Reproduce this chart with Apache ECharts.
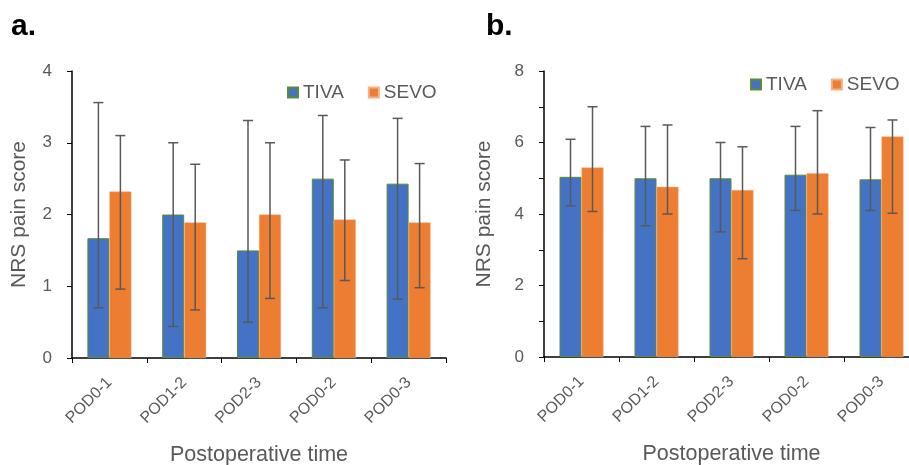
<!DOCTYPE html>
<html>
<head>
<meta charset="utf-8">
<script src="https://cdn.jsdelivr.net/npm/echarts@6/dist/echarts.min.js"></script>
<style>
  html, body { margin: 0; padding: 0; background: #fff; overflow: hidden; }
  #chart { width: 909px; height: 465px; }
</style>
</head>
<body>
<div id="chart"></div>
<script>
  // 数据
  const categories = ['POD0-1', 'POD1-2', 'POD2-3', 'POD0-2', 'POD0-3']
  const tivaA = [1.67, 2.0, 1.5, 2.5, 2.43]
  const sevoA = [2.32, 1.89, 2.0, 1.93, 1.89]
  const tivaErrA = [[0.7, 3.56], [0.44, 3.0], [0.5, 3.31], [0.7, 3.38], [0.82, 3.34]]
  const sevoErrA = [[0.96, 3.1], [0.67, 2.7], [0.83, 3.0], [1.08, 2.76], [0.98, 2.71]]
  const tivaB = [5.04, 5.0, 5.0, 5.1, 4.97]
  const sevoB = [5.3, 4.76, 4.67, 5.14, 6.17]
  const tivaErrB = [[4.23, 6.09], [3.67, 6.45], [3.5, 6.0], [4.1, 6.45], [4.1, 6.42]]
  const sevoErrB = [[4.07, 7.0], [4.0, 6.49], [2.75, 5.88], [4.0, 6.89], [4.02, 6.63]]

  const font = 'Liberation Sans'
  const grey = '#595959'
  const barW = 22

  // 误差线
  function errRender(offset) {
    return function (params, api) {
      const i = api.value(0)
      const lo = api.coord([i, api.value(1)])
      const hi = api.coord([i, api.value(2)])
      const x = lo[0] + offset
      const style = { stroke: grey, lineWidth: 1.5 }
      return {
        type: 'group',
        children: [
          { type: 'line', shape: { x1: x, y1: hi[1], x2: x, y2: lo[1] }, style: style },
          { type: 'line', shape: { x1: x - 5, y1: hi[1], x2: x + 5, y2: hi[1] }, style: style },
          { type: 'line', shape: { x1: x - 5, y1: lo[1], x2: x + 5, y2: lo[1] }, style: style }
        ]
      }
    }
  }

  function xAxis(gridIndex) {
    return {
      type: 'category',
      gridIndex: gridIndex,
      data: categories,
      name: 'Postoperative time',
      nameLocation: 'middle',
      nameGap: 86,
      nameTextStyle: { color: grey, fontSize: 21.5, fontFamily: font },
      axisLine: { lineStyle: { color: '#000', width: 1.5 } },
      axisTick: { show: true, length: 5, lineStyle: { color: '#000' } },
      axisLabel: { rotate: 45, margin: 22, color: grey, fontSize: 16, fontFamily: font }
    }
  }

  function yAxis(gridIndex, max, interval, minor, nameGap) {
    return {
      type: 'value',
      gridIndex: gridIndex,
      min: 0,
      max: max,
      interval: interval,
      name: 'NRS pain score',
      nameLocation: 'middle',
      nameGap: nameGap,
      nameTextStyle: { color: grey, fontSize: 21, fontFamily: font },
      axisLine: { show: true, lineStyle: { color: '#000', width: 1.5 } },
      axisTick: { show: true, length: 5, lineStyle: { color: '#000' } },
      minorTick: { show: minor, splitNumber: 2, length: 5, lineStyle: { color: '#000' } },
      splitLine: { show: false },
      axisLabel: { margin: 20, color: grey, fontSize: 17, fontFamily: font }
    }
  }

  function bars(name, data, idx, tiva) {
    return {
      name: name,
      type: 'bar',
      xAxisIndex: idx,
      yAxisIndex: idx,
      data: data,
      barWidth: barW,
      barGap: '0%',
      itemStyle: tiva
        ? { color: '#4472C4', borderColor: '#5B8E33', borderWidth: 1 }
        : { color: '#ED7D31', borderColor: '#F4B183', borderWidth: 0.5 }
    }
  }

  function errs(data, idx, offset) {
    return {
      type: 'custom',
      xAxisIndex: idx,
      yAxisIndex: idx,
      z: 5,
      silent: true,
      renderItem: errRender(offset),
      encode: { x: 0, y: [1, 2] },
      data: data.map((e, i) => [i, e[0], e[1]])
    }
  }

  function legend(left, top) {
    return {
      left: left,
      top: top,
      icon: 'rect',
      itemWidth: 10,
      itemHeight: 10,
      itemGap: 24,
      textStyle: { color: grey, fontSize: 19, fontFamily: font },
      data: ['TIVA', 'SEVO']
    }
  }

  const myChart = echarts.init(document.getElementById('chart'))
  const option = {
    backgroundColor: '#fff',
    animation: false,
    title: [
      { text: 'a.', left: 6, top: 7, textStyle: { fontSize: 30, fontWeight: 'bold', color: '#000', fontFamily: font } },
      { text: 'b.', left: 481, top: 7, textStyle: { fontSize: 30, fontWeight: 'bold', color: '#000', fontFamily: font } }
    ],
    legend: [legend(282, 78), legend(745, 70)],
    grid: [
      { left: 72, top: 71, width: 374, height: 287, outerBoundsMode: 'none', containLabel: false },
      { left: 544, top: 71, width: 375, height: 286, outerBoundsMode: 'none', containLabel: false }
    ],
    xAxis: [xAxis(0), xAxis(1)],
    yAxis: [yAxis(0, 4, 1, false, 42), yAxis(1, 8, 2, true, 49)],
    series: [
      bars('TIVA', tivaA, 0, true),
      bars('SEVO', sevoA, 0, false),
      errs(tivaErrA, 0, -barW / 2),
      errs(sevoErrA, 0, barW / 2),
      bars('TIVA', tivaB, 1, true),
      bars('SEVO', sevoB, 1, false),
      errs(tivaErrB, 1, -barW / 2),
      errs(sevoErrB, 1, barW / 2)
    ]
  }
  myChart.setOption(option)
</script>
</body>
</html>
